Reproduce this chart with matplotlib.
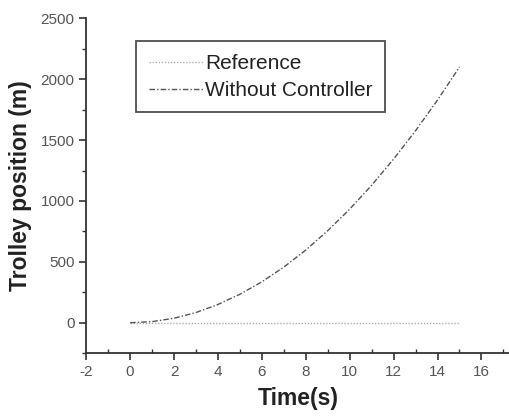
import matplotlib
matplotlib.use("Agg")
import matplotlib.pyplot as plt
from matplotlib.ticker import MultipleLocator

# Simulated trolley motion over time
time_s = [0, 1, 2, 3, 4, 5, 6, 7, 8, 9, 10, 11, 12, 13, 14, 15]
reference_m = [0, 0, 0, 0, 0, 0, 0, 0, 0, 0, 0, 0, 0, 0, 0, 0]
without_controller_m = [0, 9, 37, 84, 150, 234, 336, 457, 597, 756,
                        933, 1129, 1344, 1577, 1829, 2100]

x_ticks = [-2, 0, 2, 4, 6, 8, 10, 12, 14, 16]
y_ticks = [0, 500, 1000, 1500, 2000, 2500]

plt.rcParams['font.family'] = ['Liberation Sans', 'DejaVu Sans']
plt.rcParams['axes.unicode_minus'] = False

fig = plt.figure(figsize=(5.10, 4.16), dpi=100)
ax = fig.add_axes([0.169, 0.151, 0.831, 0.805])

ax.plot(time_s, reference_m, color='#b0b0b0', lw=1.0, ls=(0, (1, 1.2)),
        label='Reference')
ax.plot(time_s, without_controller_m, color='#555555', lw=1.0,
        ls=(0, (4, 1.5, 1, 1.5)), label='Without Controller')

ax.set_xlim(-2, 17.3)
ax.set_ylim(-250, 2500)
ax.set_xticks(x_ticks)
ax.set_yticks(y_ticks)
ax.xaxis.set_minor_locator(MultipleLocator(1))
ax.yaxis.set_minor_locator(MultipleLocator(250))

for side in ('top', 'right'):
    ax.spines[side].set_visible(False)
for side in ('left', 'bottom'):
    ax.spines[side].set_linewidth(1.3)
    ax.spines[side].set_color('#333333')

ax.tick_params(axis='both', which='major', direction='out', length=5,
               width=1.2, colors='#333333', labelcolor='#555555',
               labelsize=11)
ax.tick_params(axis='x', which='minor', direction='in', length=3,
               width=1.0, colors='#333333')
ax.tick_params(axis='y', which='minor', direction='out', length=3,
               width=1.0, colors='#333333')

ax.set_xlabel('Time(s)', fontsize=16.5, fontweight='bold', color='#222222',
              labelpad=6)
ax.set_ylabel('Trolley position (m)', fontsize=16.5, fontweight='bold',
              color='#222222', labelpad=6)

leg = ax.legend(loc='upper left', bbox_to_anchor=(0.118, 0.931),
                fontsize=15, frameon=True, fancybox=False,
                handlelength=2.6, handletextpad=0.12, borderpad=0.6,
                labelspacing=0.38, borderaxespad=0)
leg.get_frame().set_edgecolor('#222222')
leg.get_frame().set_linewidth(1.3)
for txt in leg.get_texts():
    txt.set_color('#222222')

fig.savefig('out.png', dpi=100)
